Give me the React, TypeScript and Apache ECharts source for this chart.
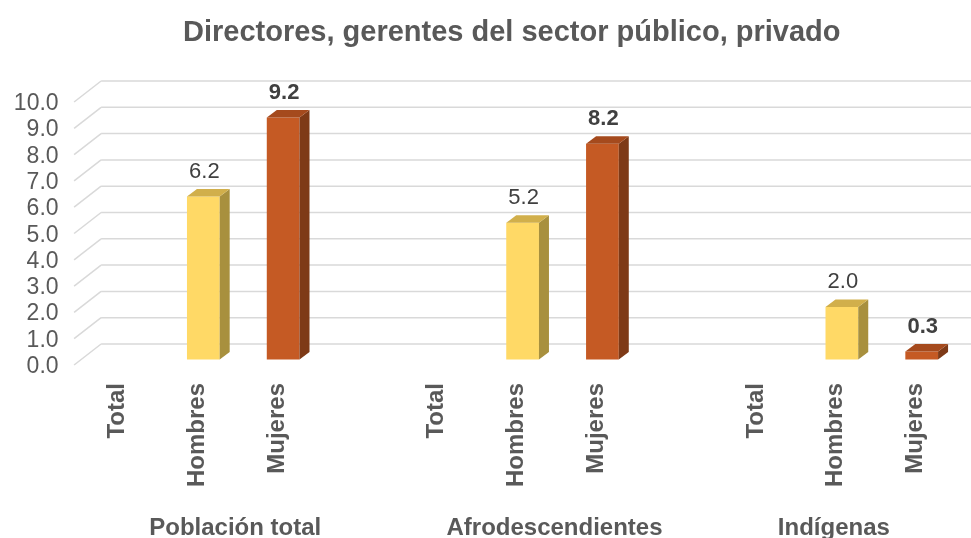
import React, { useEffect, useRef } from "react";
import * as echarts from "echarts";

const categories = ["Total", "Hombres", "Mujeres", "", "Total", "Hombres", "Mujeres", "", "Total", "Hombres", "Mujeres"];
const groupNames = ["Población total", "Afrodescendientes", "Indígenas"];
const groupStart = [0, 4, 8];
const groupEnd = [3, 7, 10];
const hombresIdx = [1, 5, 9];
const mujeresIdx = [2, 6, 10];
const hombres = [6.2, 5.2, 2.0];
const mujeres = [9.2, 8.2, 0.3];
const yTicks = [0, 1, 2, 3, 4, 5, 6, 7, 8, 9, 10];

const FONT = '"Liberation Sans", Arial, sans-serif';

function makeBarRender(front: string, side: string, top: string, bold: boolean) {
  return (params: any, api: any) => {
    const idx = api.value(0);
    const v = api.value(1);
    const base = api.coord([idx, 0]);
    const tp = api.coord([idx, v]);
    const slot = api.size([1, 0])[0];
    const w = slot * 0.41;
    const ox = 8, oy = -5.5, dx = 10, dy = -7.5;
    const xl = base[0] + ox - w / 2;
    const xr = xl + w;
    const yb = base[1] + oy;
    const yt = tp[1] + oy;
    return {
      type: "group",
      children: [
        { type: "rect", shape: { x: xl, y: yt, width: w, height: yb - yt }, style: { fill: front } },
        { type: "polygon", shape: { points: [[xr, yt], [xr + dx, yt + dy], [xr + dx, yb + dy], [xr, yb]] }, style: { fill: side } },
        { type: "polygon", shape: { points: [[xl, yt], [xl + dx, yt + dy], [xr + dx, yt + dy], [xr, yt]] }, style: { fill: top } },
        {
          type: "text",
          x: xl + w / 2 + 1,
          y: yt + dy - 18.5,
          style: {
            text: v.toFixed(1),
            fill: "#404040",
            font: `${bold ? "bold " : ""}22px ${FONT}`,
            textAlign: "center",
            textVerticalAlign: "middle",
            align: "center",
            verticalAlign: "middle",
          },
        },
      ],
    };
  };
}

export default function App() {
  const ref = useRef<HTMLDivElement>(null);
  useEffect(() => {
    if (!ref.current) return;
    const chart = echarts.init(ref.current, null, { renderer: "svg" });
    chart.setOption({
      animation: false,
      title: {
        text: "Directores, gerentes del sector público, privado",
        left: 178,
        top: 11,
        textStyle: { fontSize: 29, fontWeight: "bold", color: "#595959", fontFamily: FONT },
      },
      grid: { left: 75.6, right: 17.4, top: 102, bottom: 173, containLabel: false },
      xAxis: {
        type: "category",
        data: categories,
        axisLine: { show: false },
        axisTick: { show: false },
        splitLine: { show: false },
        axisLabel: {
          interval: 0,
          rotate: 90,
          margin: 18,
          fontSize: 24,
          fontWeight: "bold",
          color: "#595959",
          fontFamily: FONT,
        },
      },
      yAxis: {
        type: "value",
        min: 0,
        max: 10,
        interval: 1,
        axisLine: { show: false },
        axisTick: { show: false },
        splitLine: { show: false },
        axisLabel: {
          margin: 17,
          fontSize: 23,
          color: "#595959",
          fontFamily: FONT,
          formatter: (v: number) => v.toFixed(1),
        },
      },
      series: [
        {
          type: "custom",
          name: "grid3d",
          clip: false,
          silent: true,
          z: 1,
          data: yTicks.map((v) => [0, v]),
          renderItem: (params: any, api: any) => {
            const cs = params.coordSys;
            const y = api.coord([0, api.value(1)])[1];
            const x0 = cs.x - 1.5;
            const bx = x0 + 27, by = y - 21;
            const st = { stroke: "#D9D9D9", lineWidth: 1.5, fill: "none" };
            return {
              type: "group",
              children: [
                { type: "line", shape: { x1: x0, y1: y, x2: bx, y2: by }, style: st },
                { type: "line", shape: { x1: bx, y1: by, x2: api.getWidth(), y2: by }, style: st },
              ],
            };
          },
        },
        {
          type: "custom",
          name: "Hombres",
          clip: false,
          z: 2,
          data: hombresIdx.map((i, k) => [i, hombres[k]]),
          renderItem: makeBarRender("#FFD966", "#A8903E", "#D1AF4B", false),
        },
        {
          type: "custom",
          name: "Mujeres",
          clip: false,
          z: 2,
          data: mujeresIdx.map((i, k) => [i, mujeres[k]]),
          renderItem: makeBarRender("#C55A24", "#7E3A17", "#A54A1D", true),
        },
        {
          type: "custom",
          name: "groups",
          clip: false,
          silent: true,
          z: 3,
          data: groupNames.map((n, k) => ({ name: n, value: [groupStart[k], 0, groupEnd[k]] })),
          renderItem: (params: any, api: any) => {
            const x1 = api.coord([api.value(0), 0]);
            const x2 = api.coord([api.value(2), 0]);
            return {
              type: "text",
              x: (x1[0] + x2[0]) / 2,
              y: x1[1] + 161,
              style: {
                text: groupNames[params.dataIndex],
                fill: "#595959",
                font: `bold 24px ${FONT}`,
                textAlign: "center",
                textVerticalAlign: "middle",
                align: "center",
                verticalAlign: "middle",
              },
            };
          },
        },
      ],
    });
    return () => chart.dispose();
  }, []);
  return <div ref={ref} style={{ position: "fixed", left: 0, top: 0, width: 971, height: 538 }} />;
}
